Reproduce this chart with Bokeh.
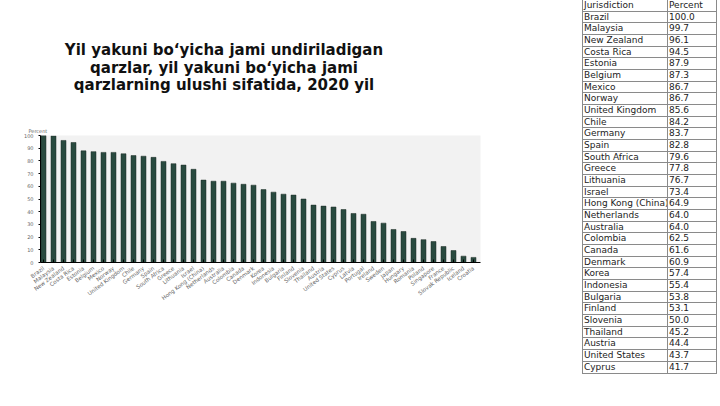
from bokeh.plotting import figure
from bokeh.models import Div, Title, FixedTicker, ColumnDataSource
from bokeh.layouts import row, column
from bokeh.embed import file_html
from bokeh.resources import INLINE

title_lines = [
    "Yil yakuni bo‘yicha jami undiriladigan",
    "qarzlar, yil yakuni bo‘yicha jami",
    "qarzlarning ulushi sifatida, 2020 yil",
]

countries = [
    "Brazil", "Malaysia", "New Zealand", "Costa Rica", "Estonia", "Belgium",
    "Mexico", "Norway", "United Kingdom", "Chile", "Germany", "Spain",
    "South Africa", "Greece", "Lithuania", "Israel", "Hong Kong (China)",
    "Netherlands", "Australia", "Colombia", "Canada", "Denmark", "Korea",
    "Indonesia", "Bulgaria", "Finland", "Slovenia", "Thailand", "Austria",
    "United States", "Cyprus", "Latvia", "Portugal", "Ireland", "Sweden",
    "Japan", "Hungary", "Romania", "Poland", "Singapore", "France",
    "Slovak Republic", "Iceland", "Croatia",
]
percent = [
    100.0, 99.7, 96.1, 94.5, 87.9, 87.3, 86.7, 86.7, 85.6, 84.2, 83.7, 82.8,
    79.6, 77.8, 76.7, 73.4, 64.9, 64.0, 64.0, 62.5, 61.6, 60.9, 57.4, 55.4,
    53.8, 53.1, 50.0, 45.2, 44.4, 43.7, 41.7, 38.6, 38.0, 32.3, 31.0, 26.0,
    24.4, 19.0, 18.0, 16.5, 12.6, 9.4, 5.0, 4.0,
]
y_ticks = [0, 10, 20, 30, 40, 50, 60, 70, 80, 90, 100]
table_rows = 31

idx = list(range(len(countries)))
src = ColumnDataSource(dict(x=idx, top=percent, name=countries))

p = figure(
    output_backend="svg", toolbar_location=None,
    frame_width=440, frame_height=127,
    x_range=(-0.3, len(countries) - 0.3), y_range=(0, 100),
    min_border_left=40, min_border_right=102, min_border_top=21,
    min_border_bottom=10,
)
p.vbar(x="x", top="top", width=0.5, source=src,
       fill_color="#294a3f", line_color="#1c2a25", line_width=0.5)

p.background_fill_color = "#f2f2f2"
p.border_fill_color = "white"
p.outline_line_color = None
p.xgrid.visible = False
p.ygrid.visible = False

p.xaxis.ticker = FixedTicker(ticks=idx)
p.xaxis.major_label_overrides = {i: c for i, c in zip(idx, countries)}
p.xaxis.major_label_orientation = 0.65
p.xaxis.major_label_text_font_size = "5.5px"
p.xaxis.major_label_text_color = "#666666"
p.xaxis.major_label_text_font = "DejaVu Sans"
p.xaxis.major_tick_in = 3
p.xaxis.major_tick_out = 0
p.xaxis.minor_tick_line_color = None
p.xaxis.axis_line_color = "black"

p.yaxis.ticker = FixedTicker(ticks=y_ticks)
p.yaxis.major_label_text_font_size = "5px"
p.yaxis.major_label_text_color = "#666666"
p.yaxis.major_label_text_font = "DejaVu Sans"
p.yaxis.major_tick_in = 0
p.yaxis.major_tick_out = 2
p.yaxis.minor_tick_line_color = None
p.yaxis.axis_line_color = "black"

p.add_layout(Title(text="Percent", align="left", offset=-12,
                   text_font_size="5px", text_font_style="normal",
                   text_color="#666666", text_font="DejaVu Sans",
                   standoff=4), "above")

title_html = (
    "<div style=\"width:448px;text-align:center;font-family:'DejaVu Sans',sans-serif;"
    "font-weight:bold;font-size:15px;line-height:17.5px;color:#111;\">"
    + "<br>".join(title_lines) + "</div>"
)
title_div = Div(text=title_html, width=448, height=72, margin=(42, 0, 0, 0))

cell = ("border:1px solid #8a8a8a;padding:0 1px;height:10.67px;line-height:10.67px;"
        "overflow:hidden;white-space:nowrap;text-align:left;font-weight:normal;")
rows_html = ("<tr><td style=\"" + cell + "\">Jurisdiction</td>"
             "<td style=\"" + cell + "\">Percent</td></tr>")
for c, v in list(zip(countries, percent))[:table_rows]:
    rows_html += ("<tr><td style=\"" + cell + "\">" + c + "</td>"
                  "<td style=\"" + cell + "\">" + f"{v:.1f}" + "</td></tr>")
table_html = (
    "<table style=\"border-collapse:collapse;table-layout:fixed;width:134px;"
    "font-family:'DejaVu Sans',sans-serif;font-size:9px;color:#222;\">"
    "<colgroup><col style=\"width:85px\"><col style=\"width:49px\"></colgroup>"
    + rows_html + "</table>"
)
table_div = Div(text=table_html, width=136, height=380, margin=(-1, 0, 0, 0))

left = column(title_div, p, spacing=0)
layout = row(left, table_div, spacing=0)

open("out.html", "w").write(file_html(layout, INLINE))
